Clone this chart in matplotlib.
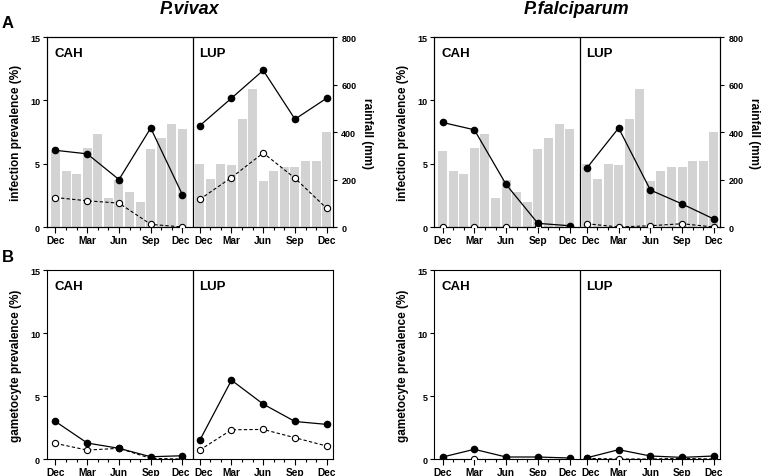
import matplotlib
matplotlib.use("Agg")
import matplotlib.pyplot as plt
from matplotlib.transforms import ScaledTranslation
import numpy as np

plt.rcParams['font.family'] = ['Liberation Sans', 'DejaVu Sans']
plt.rcParams['font.weight'] = 'bold'

# months Dec..Dec (13 monthly bars), sampling every 3 months
tick_labels = ['Dec', 'Mar', 'Jun', 'Sep', 'Dec']
sites = ['CAH', 'LUP']

# monthly rainfall (mm)
rain_cah = [322, 235, 224, 333, 393, 123, 200, 148, 105, 327, 373, 434, 415]
rain_lup = [267, 203, 267, 261, 457, 580, 192, 235, 254, 254, 277, 277, 401]

# infection prevalence (%) - filled / open symbols
viv_inf_cah_f = [6.06, 5.78, 3.75, 7.82, 2.54]
viv_inf_cah_o = [2.33, 2.07, 1.89, 0.21, 0.0]
viv_inf_lup_f = [8.0, 10.18, 12.38, 8.52, 10.18]
viv_inf_lup_o = [2.18, 3.91, 5.85, 3.86, 1.47]

fal_inf_cah_f = [8.26, 7.68, 3.36, 0.29, 0.1]
fal_inf_cah_o = [0.0, 0.0, 0.0, 0.0, 0.0]
fal_inf_lup_f = [4.66, 7.82, 2.92, 1.82, 0.63]
fal_inf_lup_o = [0.26, 0.0, 0.1, 0.26, 0.0]

# gametocyte prevalence (%)
viv_gam_cah_f = [2.98, 1.27, 0.85, 0.18, 0.26]
viv_gam_cah_o = [1.24, 0.71, 0.85, 0.05, 0.0]
viv_gam_lup_f = [1.48, 6.26, 4.36, 2.98, 2.75]
viv_gam_lup_o = [0.71, 2.32, 2.35, 1.69, 1.03]

fal_gam_cah_f = [0.16, 0.77, 0.16, 0.16, 0.08]
fal_gam_cah_o = [0.0, 0.0, 0.0, 0.0, 0.0]
fal_gam_lup_f = [0.1, 0.74, 0.24, 0.13, 0.24]
fal_gam_lup_o = [0.05, 0.0, 0.0, 0.05, 0.0]

OFF = 13.63
SPLIT = 12.95
XMIN, XMAX = -0.8, 26.22
months = np.arange(13)
qtr = np.arange(0, 13, 3)

fig = plt.figure(figsize=(7.63, 4.77), dpi=100)


def panel(pos, cah_f, cah_o, lup_f, lup_o, ylabel, rain=False):
    ax = fig.add_axes(pos)
    if rain:
        ax2 = ax.twinx()
        ax2.bar(months, rain_cah, width=0.85, color='#d3d3d3', zorder=1)
        ax2.bar(months + OFF, rain_lup, width=0.85, color='#d3d3d3', zorder=1)
        ax2.set_ylim(0, 800)
        ax2.set_yticks([0, 200, 400, 600, 800])
        ax2.tick_params(axis='y', labelsize=6.5, length=3, width=0.8, pad=3)
        ax2.set_ylabel('rainfall (mm)', fontsize=8.5, fontweight='bold', rotation=270, labelpad=12)
        for s in ax2.spines.values():
            s.set_linewidth(0.8)
        ax.set_zorder(ax2.get_zorder() + 1)
        ax.patch.set_visible(False)
    for off, f, o in [(0, cah_f, cah_o), (OFF, lup_f, lup_o)]:
        ax.plot(qtr + off, o, color='black', lw=0.8, ls=(0, (3, 2)), marker='o', ms=4.5,
                mfc='white', mec='black', mew=0.8, zorder=3)
        ax.plot(qtr + off, f, '-', color='black', lw=0.9, marker='o', ms=4.5,
                mfc='black', mec='black', zorder=4)
    ax.axvline(SPLIT, color='black', lw=0.9)
    ax.set_xlim(XMIN, XMAX)
    ax.set_ylim(0, 15)
    ax.set_yticks([0, 5, 10, 15])
    ax.set_xticks(np.concatenate([qtr, qtr + OFF]))
    ax.set_xticklabels(tick_labels * 2)
    ax.set_xticks(np.concatenate([months, months + OFF]), minor=True)
    ax.tick_params(axis='x', which='major', labelsize=7.3, length=4, width=0.8, pad=2)
    ax.tick_params(axis='x', which='minor', length=2.5, width=0.8)
    ax.tick_params(axis='y', labelsize=6.5, length=3, width=0.8, pad=2)
    labs = ax.get_xticklabels()
    labs[4].set_transform(labs[4].get_transform() + ScaledTranslation(-1.5 / 100, 0, fig.dpi_scale_trans))
    labs[5].set_transform(labs[5].get_transform() + ScaledTranslation(3.5 / 100, 0, fig.dpi_scale_trans))
    for s in ax.spines.values():
        s.set_linewidth(0.8)
    ax.set_ylabel(ylabel, fontsize=8.5, fontweight='bold', labelpad=6)
    ax.text(0.027, 0.95, sites[0], transform=ax.transAxes, fontsize=9.5,
            fontweight='bold', va='top', ha='left')
    ax.text((SPLIT - XMIN) / (XMAX - XMIN) + 0.022, 0.95, sites[1], transform=ax.transAxes,
            fontsize=9.5, fontweight='bold', va='top', ha='left')
    return ax


W = 0.3748
panel([0.0616, 0.522, W, 0.398], viv_inf_cah_f, viv_inf_cah_o, viv_inf_lup_f, viv_inf_lup_o,
      'infection prevalence (%)', rain=True)
panel([0.569, 0.522, W, 0.398], fal_inf_cah_f, fal_inf_cah_o, fal_inf_lup_f, fal_inf_lup_o,
      'infection prevalence (%)', rain=True)
panel([0.0616, 0.0356, W, 0.396], viv_gam_cah_f, viv_gam_cah_o, viv_gam_lup_f, viv_gam_lup_o,
      'gametocyte prevalence (%)')
panel([0.569, 0.0356, W, 0.396], fal_gam_cah_f, fal_gam_cah_o, fal_gam_lup_f, fal_gam_lup_o,
      'gametocyte prevalence (%)')

fig.text(190 / 763, 1 - 9 / 477, 'P.vivax', fontsize=13, fontweight='bold', style='italic',
         ha='center', va='center')
fig.text(577 / 763, 1 - 9 / 477, 'P.falciparum', fontsize=13, fontweight='bold', style='italic',
         ha='center', va='center')
fig.text(2 / 763, 1 - 24 / 477, 'A', fontsize=12, fontweight='bold', ha='left', va='center')
fig.text(2 / 763, 1 - 258 / 477, 'B', fontsize=12, fontweight='bold', ha='left', va='center')

fig.savefig('out.png', dpi=100)
